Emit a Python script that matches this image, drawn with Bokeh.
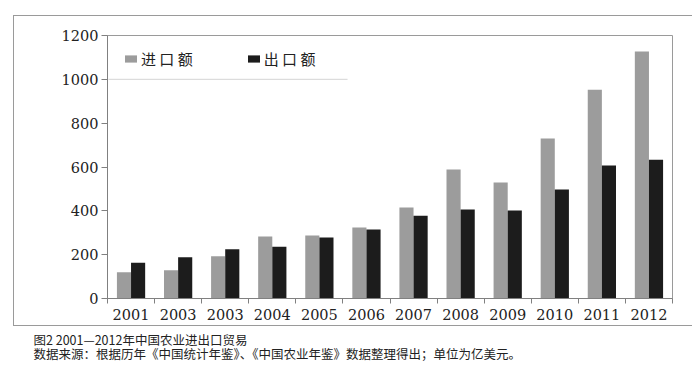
from bokeh.plotting import figure
from bokeh.layouts import column
from bokeh.models import (Range1d, FixedTicker, Legend, LegendItem, BoxAnnotation,
                          Label, ColumnDataSource)
from bokeh.transform import dodge
from bokeh.embed import file_html
from bokeh.resources import INLINE

years = ["2001", "2003", "2003", "2004", "2005", "2006", "2007", "2008", "2009", "2010", "2011", "2012"]
imports = [120, 129, 193, 283, 287, 324, 415, 589, 529, 730, 952, 1127]
exports = [163, 188, 225, 236, 278, 315, 378, 406, 401, 497, 607, 633]
y_ticks = [0, 200, 400, 600, 800, 1000, 1200]
legend_labels = ["进 口 额", "出 口 额"]
caption1 = "图2 2001—2012年中国农业进出口贸易"
caption2 = "数据来源：根据历年《中国统计年鉴》、《中国农业年鉴》数据整理得出；单位为亿美元。"

IMP_COLOR = "#9c9c9c"
EXP_COLOR = "#1c1c1c"
AXIS_COLOR = "#808080"
BOX_COLOR = "#9a9a9a"
TEXT_COLOR = "#222222"
NUM_FONT = "DejaVu Serif"
CJK_FONT = "Noto Sans CJK SC"

n = len(years)
centers = [i + 0.5 for i in range(n)]
bounds = [float(i) for i in range(n + 1)]
src = ColumnDataSource(dict(x=centers, imp=imports, exp=exports, year=years))

# ---- chart (inside the outer box) ----
p = figure(width=679, height=311, output_backend="svg", toolbar_location=None,
           x_range=Range1d(0, n), y_range=Range1d(0, 1200),
           min_border_left=93, min_border_right=21, min_border_top=19, min_border_bottom=29)
p.frame_align = False
p.margin = (15, 0, 0, 13)
p.styles = {"border-top": f"1px solid {BOX_COLOR}",
            "border-left": f"1px solid {BOX_COLOR}",
            "border-bottom": f"1px solid {BOX_COLOR}"}
p.background_fill_color = "white"
p.border_fill_color = "white"
p.outline_line_color = BOX_COLOR
p.outline_line_width = 1
p.grid.visible = False

r_imp = p.vbar(x=dodge("x", -0.15, range=p.x_range), top="imp", width=0.3, source=src,
               fill_color=IMP_COLOR, line_color=None)
r_exp = p.vbar(x=dodge("x", 0.15, range=p.x_range), top="exp", width=0.3, source=src,
               fill_color=EXP_COLOR, line_color=None)

xa = p.xaxis[0]
xa.ticker = FixedTicker(ticks=centers, minor_ticks=bounds)
xa.major_label_overrides = {c: y for c, y in zip(centers, years)}
xa.major_tick_line_color = None
xa.minor_tick_out = 5
xa.minor_tick_in = 0
xa.minor_tick_line_color = AXIS_COLOR
xa.axis_line_color = AXIS_COLOR
xa.major_label_text_font = NUM_FONT
xa.major_label_text_font_size = "14.5px"
xa.major_label_text_color = TEXT_COLOR
xa.major_label_standoff = 4

ya = p.yaxis[0]
ya.ticker = FixedTicker(ticks=y_ticks)
ya.minor_tick_line_color = None
ya.major_tick_out = 6
ya.major_tick_in = 0
ya.major_tick_line_color = AXIS_COLOR
ya.axis_line_color = AXIS_COLOR
ya.major_label_text_font = NUM_FONT
ya.major_label_text_font_size = "14.5px"
ya.major_label_text_color = TEXT_COLOR
ya.major_label_standoff = 3

legend = Legend(items=[LegendItem(label=legend_labels[0], renderers=[r_imp]),
                       LegendItem(label=legend_labels[1], renderers=[r_exp])],
                orientation="horizontal", location=(16, 229),
                glyph_width=15, glyph_height=9, label_standoff=3, spacing=53,
                padding=0, margin=0, border_line_color=None, background_fill_alpha=0,
                label_text_font=CJK_FONT, label_text_font_size="15px",
                label_text_color=TEXT_COLOR)
p.add_layout(legend, "center")

# thin rule under the legend
p.add_layout(BoxAnnotation(left=93, right=332, left_units="canvas", right_units="canvas",
                           top=1000, bottom=1000, fill_color=None,
                           line_color="#b4b4b4", line_width=1))

# ---- caption strip ----
c = figure(width=692, height=40, output_backend="svg", toolbar_location=None,
           x_range=Range1d(0, 692), y_range=Range1d(0, 40),
           x_axis_location=None, y_axis_location=None,
           min_border=0, min_border_left=0, min_border_right=0,
           min_border_top=0, min_border_bottom=0)
c.frame_align = False
c.margin = (0, 0, 0, 0)
c.grid.visible = False
c.outline_line_color = None
c.background_fill_color = "white"
c.border_fill_color = "white"
c.add_layout(Label(x=33, y=27.5, text=caption1, text_font=CJK_FONT, text_font_size="12.5px",
                   text_color=TEXT_COLOR, text_baseline="middle"))
c.add_layout(Label(x=33, y=13, text=caption2, text_font=CJK_FONT, text_font_size="12.5px",
                   text_color=TEXT_COLOR, text_baseline="middle"))

layout = column(p, c, spacing=0)
open("out.html", "w").write(file_html(layout, INLINE))
